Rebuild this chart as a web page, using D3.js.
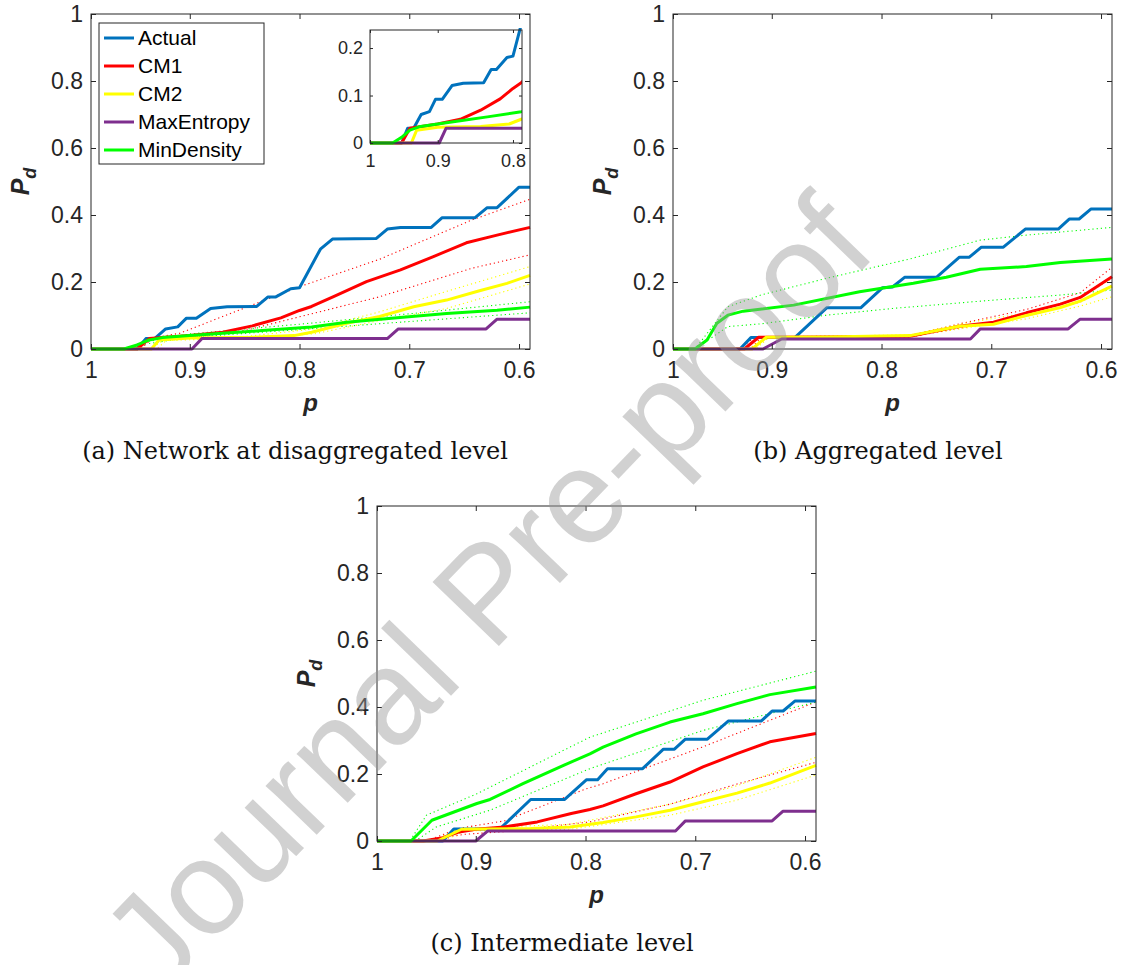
<!DOCTYPE html>
<html>
<head>
<meta charset="utf-8">
<script src="https://cdn.jsdelivr.net/npm/d3@7"></script>
<style>
  body { margin: 0; background: #fff; }
  svg { display: block; }
</style>
</head>
<body>
<script>
// every series is a list of [p, Pd].
// the p axis runs from 0.99 (labelled "1") down to 0.59
const seriesNames = ["Actual", "CM1", "CM2", "MaxEntropy", "MinDensity"];
const seriesColors = ["#0072BD", "#FF0000", "#FFFF00", "#7E2F8E", "#00FF00"];

const xTicks = [0.99, 0.9, 0.8, 0.7, 0.6];
const yTicks = [0, 0.2, 0.4, 0.6, 0.8, 1];
const insetXTicks = [0.99, 0.9, 0.8];
const insetYTicks = [0, 0.1, 0.2];

// (a) disaggregated
const actualA = [[0.99,0],[0.948,0],[0.940,0.031],[0.932,0.031],[0.922,0.060],[0.911,0.066],[0.903,0.092],[0.894,0.092],[0.881,0.121],[0.866,0.126],[0.839,0.127],[0.829,0.155],[0.822,0.155],[0.808,0.180],[0.800,0.183],[0.781,0.298],[0.770,0.328],[0.730,0.330],[0.720,0.358],[0.708,0.363],[0.680,0.363],[0.670,0.392],[0.640,0.392],[0.629,0.422],[0.620,0.422],[0.600,0.483],[0.59,0.483]];
const cm1A = [[0.99,0],[0.948,0],[0.937,0.031],[0.90,0.040],[0.87,0.050],[0.843,0.069],[0.817,0.093],[0.80,0.115],[0.789,0.127],[0.769,0.156],[0.739,0.201],[0.708,0.236],[0.678,0.276],[0.648,0.317],[0.62,0.340],[0.59,0.363]];
const cm1UpA = [[0.99,0],[0.95,0],[0.94,0.03],[0.909,0.047],[0.863,0.106],[0.80,0.186],[0.727,0.268],[0.643,0.385],[0.59,0.447]];
const cm1LoA = [[0.99,0],[0.945,0],[0.935,0.028],[0.90,0.033],[0.848,0.057],[0.80,0.096],[0.727,0.156],[0.643,0.241],[0.59,0.281]];
const cm2A = [[0.99,0],[0.935,0],[0.928,0.027],[0.90,0.033],[0.843,0.035],[0.805,0.040],[0.789,0.050],[0.757,0.077],[0.727,0.097],[0.696,0.126],[0.666,0.146],[0.636,0.174],[0.611,0.196],[0.59,0.220]];
const cm2UpA = [[0.99,0],[0.93,0],[0.92,0.03],[0.85,0.037],[0.787,0.06],[0.727,0.111],[0.666,0.172],[0.59,0.246]];
const cm2LoA = [[0.99,0],[0.935,0],[0.925,0.025],[0.85,0.033],[0.787,0.045],[0.727,0.085],[0.666,0.121],[0.59,0.194]];
const maxEntA = [[0.99,0],[0.898,0],[0.889,0.031],[0.720,0.031],[0.710,0.060],[0.630,0.060],[0.620,0.089],[0.59,0.089]];
const minDenA = [[0.99,0],[0.96,0],[0.948,0.012],[0.937,0.027],[0.925,0.034],[0.90,0.040],[0.87,0.047],[0.834,0.055],[0.789,0.066],[0.757,0.080],[0.711,0.093],[0.666,0.106],[0.62,0.116],[0.59,0.125]];
const minDenUpA = [[0.99,0],[0.96,0],[0.945,0.018],[0.90,0.045],[0.80,0.074],[0.70,0.105],[0.59,0.141]];
const minDenLoA = [[0.99,0],[0.955,0],[0.94,0.015],[0.90,0.035],[0.80,0.058],[0.70,0.082],[0.59,0.108]];

// (b) aggregated
const actualB = [[0.99,0],[0.929,0],[0.919,0.034],[0.879,0.034],[0.850,0.123],[0.819,0.123],[0.799,0.183],[0.790,0.185],[0.779,0.214],[0.750,0.214],[0.729,0.274],[0.720,0.274],[0.709,0.304],[0.689,0.304],[0.669,0.358],[0.639,0.358],[0.629,0.388],[0.620,0.388],[0.609,0.418],[0.59,0.418]];
const cm1B = [[0.99,0],[0.925,0],[0.912,0.035],[0.85,0.036],[0.774,0.038],[0.729,0.068],[0.698,0.080],[0.668,0.108],[0.637,0.134],[0.619,0.154],[0.59,0.216]];
const cm1UpB = [[0.99,0],[0.93,0],[0.915,0.036],[0.774,0.040],[0.729,0.075],[0.668,0.118],[0.619,0.168],[0.59,0.244]];
const cm1LoB = [[0.99,0],[0.92,0],[0.91,0.033],[0.774,0.036],[0.729,0.062],[0.668,0.098],[0.619,0.140],[0.59,0.190]];
const cm2B = [[0.99,0],[0.918,0],[0.905,0.035],[0.85,0.036],[0.774,0.040],[0.729,0.068],[0.698,0.074],[0.668,0.100],[0.637,0.124],[0.619,0.143],[0.59,0.188]];
const cm2UpB = [[0.99,0],[0.92,0],[0.907,0.036],[0.774,0.042],[0.729,0.074],[0.668,0.108],[0.619,0.152],[0.59,0.21]];
const cm2LoB = [[0.99,0],[0.915,0],[0.903,0.033],[0.774,0.037],[0.729,0.060],[0.668,0.090],[0.619,0.128],[0.59,0.156]];
const maxEntB = [[0.99,0],[0.908,0],[0.891,0.030],[0.719,0.030],[0.710,0.060],[0.630,0.060],[0.619,0.089],[0.59,0.089]];
const minDenB = [[0.99,0],[0.970,0],[0.959,0.027],[0.950,0.077],[0.940,0.101],[0.926,0.113],[0.880,0.131],[0.820,0.171],[0.771,0.196],[0.741,0.214],[0.710,0.238],[0.668,0.246],[0.637,0.258],[0.59,0.269]];
const minDenUpB = [[0.99,0],[0.97,0],[0.94,0.126],[0.91,0.161],[0.85,0.211],[0.774,0.269],[0.710,0.325],[0.668,0.340],[0.59,0.363]];
const minDenLoB = [[0.99,0],[0.97,0],[0.94,0.067],[0.91,0.075],[0.85,0.101],[0.79,0.121],[0.698,0.146],[0.637,0.161],[0.59,0.176]];

// (c) intermediate
const actualC = [[0.99,0],[0.930,0],[0.920,0.036],[0.878,0.036],[0.850,0.124],[0.819,0.124],[0.799,0.183],[0.789,0.183],[0.780,0.216],[0.748,0.216],[0.729,0.274],[0.719,0.274],[0.709,0.304],[0.689,0.304],[0.670,0.358],[0.640,0.358],[0.630,0.388],[0.620,0.388],[0.609,0.418],[0.59,0.418]];
const cm1C = [[0.99,0],[0.948,0],[0.93,0.01],[0.915,0.027],[0.90,0.035],[0.874,0.042],[0.844,0.057],[0.813,0.082],[0.796,0.094],[0.784,0.105],[0.754,0.141],[0.723,0.176],[0.693,0.221],[0.662,0.261],[0.632,0.296],[0.59,0.321]];
const cm1UpC = [[0.99,0],[0.945,0],[0.915,0.038],[0.874,0.06],[0.80,0.155],[0.784,0.171],[0.693,0.281],[0.59,0.415]];
const cm1LoC = [[0.99,0],[0.95,0],[0.91,0.02],[0.874,0.028],[0.796,0.057],[0.723,0.11],[0.662,0.17],[0.59,0.235]];
const cm2C = [[0.99,0],[0.935,0],[0.913,0.035],[0.85,0.037],[0.814,0.042],[0.784,0.055],[0.754,0.072],[0.723,0.092],[0.693,0.117],[0.662,0.143],[0.632,0.173],[0.59,0.226]];
const cm2UpC = [[0.99,0],[0.94,0],[0.915,0.037],[0.814,0.05],[0.723,0.11],[0.662,0.165],[0.59,0.25]];
const cm2LoC = [[0.99,0],[0.93,0],[0.91,0.03],[0.814,0.035],[0.723,0.077],[0.662,0.122],[0.59,0.197]];
const maxEntC = [[0.99,0],[0.900,0],[0.889,0.030],[0.718,0.030],[0.709,0.060],[0.630,0.060],[0.620,0.089],[0.59,0.089]];
const minDenC = [[0.99,0],[0.959,0],[0.940,0.062],[0.899,0.112],[0.887,0.124],[0.857,0.171],[0.820,0.226],[0.796,0.260],[0.784,0.280],[0.754,0.320],[0.723,0.355],[0.693,0.380],[0.662,0.410],[0.632,0.437],[0.59,0.460]];
const minDenUpC = [[0.99,0],[0.96,0],[0.945,0.077],[0.899,0.141],[0.796,0.31],[0.693,0.42],[0.59,0.507]];
const minDenLoC = [[0.99,0],[0.955,0],[0.936,0.042],[0.887,0.092],[0.796,0.216],[0.693,0.330],[0.59,0.415]];

const W = 1124, H = 965;
const ink = "#262626";
const sans = "'Liberation Sans', Arial, Helvetica, sans-serif";
const serif = "'DejaVu Serif', 'Liberation Serif', serif";

const svg = d3.select("body").append("svg")
  .attr("width", W)
  .attr("height", H);

const defs = svg.append("defs");

function drawAxes(g, x, y, w, h, xt, yt, fs, tick, xpad, ypad) {
  const fmt = d3.format(".1g");
  const yfmt = d => d3.format("~g")(d);

  g.append("g")
    .attr("transform", "translate(0," + h + ")")
    .call(d3.axisBottom(x).tickValues(xt).tickFormat(fmt).tickSizeInner(-tick).tickSizeOuter(0).tickPadding(xpad))
    .call(a => a.select(".domain").remove())
    .attr("font-family", sans).attr("font-size", fs).attr("color", ink);
  g.append("g")
    .call(d3.axisTop(x).tickValues(xt).tickFormat("").tickSizeInner(-tick).tickSizeOuter(0))
    .call(a => a.select(".domain").remove())
    .attr("color", ink);
  g.append("g")
    .call(d3.axisLeft(y).tickValues(yt).tickFormat(yfmt).tickSizeInner(-tick).tickSizeOuter(0).tickPadding(ypad))
    .call(a => a.select(".domain").remove())
    .attr("font-family", sans).attr("font-size", fs).attr("color", ink);
  g.append("g")
    .attr("transform", "translate(" + w + ",0)")
    .call(d3.axisRight(y).tickValues(yt).tickFormat("").tickSizeInner(-tick).tickSizeOuter(0))
    .call(a => a.select(".domain").remove())
    .attr("color", ink);

  g.append("rect")
    .attr("width", w).attr("height", h)
    .attr("fill", "none").attr("stroke", ink).attr("stroke-width", 1);
}

function drawSeries(g, x, y, clipId, means, bounds) {
  const line = d3.line().x(d => x(d[0])).y(d => y(d[1]));
  const lg = g.append("g").attr("clip-path", "url(#" + clipId + ")");

  bounds.forEach(b => {
    b.data.forEach(arr => {
      lg.append("path")
        .attr("d", line(arr))
        .attr("fill", "none")
        .attr("stroke", seriesColors[b.idx])
        .attr("stroke-width", 1.1)
        .attr("stroke-dasharray", "1.2,3");
    });
  });

  means.forEach((arr, i) => {
    lg.append("path")
      .attr("d", line(arr))
      .attr("fill", "none")
      .attr("stroke", seriesColors[i])
      .attr("stroke-width", 3)
      .attr("stroke-linejoin", "round");
  });
}

function drawPanel(cfg) {
  const g = svg.append("g").attr("transform", "translate(" + cfg.left + "," + cfg.top + ")");
  const x = d3.scaleLinear().domain([0.99, 0.59]).range([0, cfg.w]);
  const y = d3.scaleLinear().domain([0, 1]).range([cfg.h, 0]);

  defs.append("clipPath").attr("id", "clip-" + cfg.id)
    .append("rect").attr("x", -2).attr("y", -2).attr("width", cfg.w + 4).attr("height", cfg.h + 4);

  drawSeries(g, x, y, "clip-" + cfg.id, cfg.means, cfg.bounds);
  drawAxes(g, x, y, cfg.w, cfg.h, xTicks, yTicks, 23, 5, 13, 8);

  // axis titles
  g.append("text")
    .attr("x", cfg.w / 2).attr("y", cfg.h + 62)
    .attr("text-anchor", "middle")
    .attr("font-family", sans).attr("font-size", 24)
    .attr("font-weight", "bold").attr("font-style", "italic")
    .attr("fill", ink)
    .text("p");

  const yl = g.append("text")
    .attr("transform", "translate(-62," + (cfg.h / 2) + ") rotate(-90)")
    .attr("text-anchor", "middle")
    .attr("font-family", sans).attr("font-size", 25)
    .attr("font-weight", "bold").attr("font-style", "italic")
    .attr("fill", ink);
  yl.append("tspan").text("P");
  yl.append("tspan").attr("font-size", 18).attr("dy", 7).text("d");

  svg.append("text")
    .attr("x", cfg.capX).attr("y", cfg.capY)
    .attr("text-anchor", "middle")
    .attr("font-family", serif).attr("font-size", 24)
    .attr("fill", "#111")
    .text(cfg.caption);

  return g;
}

drawPanel({
  id: "a", left: 91, top: 14, w: 439, h: 335,
  means: [actualA, cm1A, cm2A, maxEntA, minDenA],
  bounds: [{idx: 1, data: [cm1UpA, cm1LoA]}, {idx: 2, data: [cm2UpA, cm2LoA]}, {idx: 4, data: [minDenUpA, minDenLoA]}],
  caption: "(a) Network at disaggregated level", capX: 295, capY: 459
});

drawPanel({
  id: "b", left: 673, top: 14, w: 439, h: 335,
  means: [actualB, cm1B, cm2B, maxEntB, minDenB],
  bounds: [{idx: 1, data: [cm1UpB, cm1LoB]}, {idx: 2, data: [cm2UpB, cm2LoB]}, {idx: 4, data: [minDenUpB, minDenLoB]}],
  caption: "(b) Aggregated level", capX: 878, capY: 459
});

drawPanel({
  id: "c", left: 377, top: 506, w: 439, h: 335,
  means: [actualC, cm1C, cm2C, maxEntC, minDenC],
  bounds: [{idx: 1, data: [cm1UpC, cm1LoC]}, {idx: 2, data: [cm2UpC, cm2LoC]}, {idx: 4, data: [minDenUpC, minDenLoC]}],
  caption: "(c) Intermediate level", capX: 562, capY: 951
});

// legend inside panel (a)
const legend = svg.append("g").attr("transform", "translate(99,23)");
legend.append("rect")
  .attr("width", 165).attr("height", 141)
  .attr("fill", "#fff").attr("stroke", ink).attr("stroke-width", 1);
seriesNames.forEach((name, i) => {
  const row = legend.append("g").attr("transform", "translate(0," + (15 + i * 28) + ")");
  row.append("line")
    .attr("x1", 5).attr("x2", 35)
    .attr("stroke", seriesColors[i]).attr("stroke-width", 3);
  row.append("text")
    .attr("x", 39).attr("dy", "0.35em")
    .attr("font-family", sans).attr("font-size", 21)
    .attr("fill", "#000")
    .text(name);
});

// inset zoom of (a)
const inset = svg.append("g").attr("transform", "translate(370,30)");
const iw = 152, ih = 113;
const ix = d3.scaleLinear().domain([0.99, 0.788]).range([0, iw]);
const iy = d3.scaleLinear().domain([0, 0.238]).range([ih, 0]);
inset.append("rect").attr("width", iw).attr("height", ih).attr("fill", "#fff");
defs.append("clipPath").attr("id", "clip-inset")
  .append("rect").attr("x", 0).attr("y", -2).attr("width", iw).attr("height", ih + 4);
drawSeries(inset, ix, iy, "clip-inset", [actualA, cm1A, cm2A, maxEntA, minDenA], []);
drawAxes(inset, ix, iy, iw, ih, insetXTicks, insetYTicks, 18, 3, 11, 7);

// watermark
svg.append("text")
  .attr("transform", "translate(486,592) rotate(-46)")
  .attr("text-anchor", "middle")
  .attr("dy", "0.35em")
  .attr("font-family", sans)
  .attr("font-size", 134)
  .attr("fill", "#999")
  .attr("fill-opacity", 0.45)
  .text("Journal Pre-proof");
</script>
</body>
</html>
